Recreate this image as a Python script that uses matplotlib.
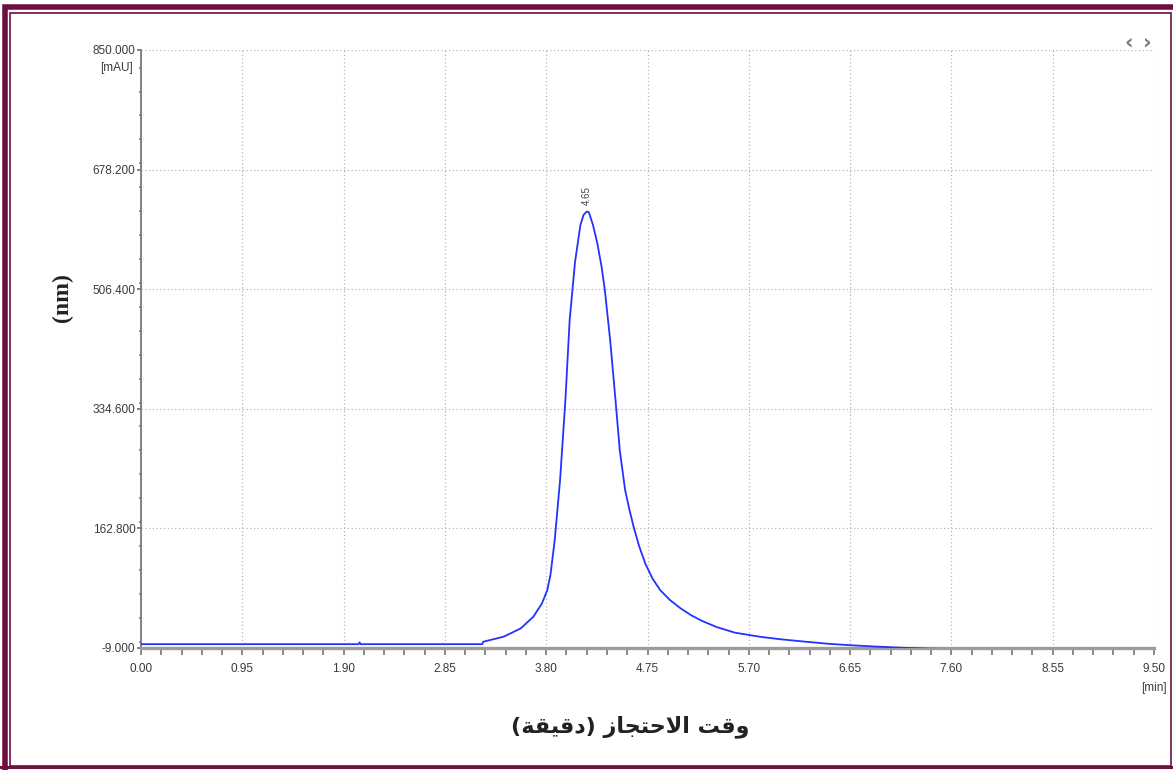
import matplotlib.pyplot as plt
import matplotlib.patches as pt
from matplotlib.lines import Line2D
from matplotlib.ticker import MultipleLocator

# chromatogram (time in min, signal in mAU)
time = [0.00, 2.04, 2.05, 2.06, 3.20, 3.21, 3.40, 3.56, 3.68, 3.76, 3.81,
        3.84, 3.88, 3.93, 3.98, 4.02, 4.07, 4.12, 4.15, 4.18, 4.20, 4.24,
        4.28, 4.32, 4.35, 4.40, 4.45, 4.49, 4.54, 4.58, 4.62, 4.67, 4.73,
        4.80, 4.87, 4.96, 5.06, 5.16, 5.26, 5.40, 5.57, 5.81, 6.00, 6.20,
        6.45, 6.65, 6.90, 7.12, 7.40, 7.59, 8.25]
signal = [-3.5, -3.5, -1.0, -3.5, -3.5, 0.0, 7.2, 19.0, 36.0, 55.0, 74.0,
          96.0, 146.0, 232.0, 347.0, 462.0, 545.0, 598.0, 613.0, 618.0, 617.0, 598.0,
          572.0, 538.0, 505.0, 433.0, 347.0, 275.0, 218.0, 190.0, 165.0, 138.0, 112.0,
          90.0, 74.0, 60.0, 48.0, 38.0, 30.0, 21.0, 13.0, 7.0, 3.5, 0.5,
          -3.0, -5.0, -7.0, -8.5, -10.0, -10.5, -11.0]

peak_time = 4.18
peak_value = 618.0
peak_label = '4.65'

xticks = [0.00, 0.95, 1.90, 2.85, 3.80, 4.75, 5.70, 6.65, 7.60, 8.55, 9.50]
yticks = [-9.0, 162.8, 334.6, 506.4, 678.2, 850.0]

# "وقت الاحتجاز (دقيقة)" in Arabic presentation forms, visual order
xlabel_ar = ('(\uFE94\uFED8\uFEF4\uFED7\uFEA9) '
             '\uFEAF\uFE8E\uFEA0\uFE98\uFEA3\uFEFB\uFE8D '
             '\uFE96\uFED7\uFEED')

W, H = 1173, 770
fig = plt.figure(figsize=(W / 100, H / 100), dpi=100)
fig.patch.set_facecolor('white')

ax = fig.add_axes([141 / W, 1 - 648 / H, 1013 / W, 598 / H])

tick_font = dict(family=['Liberation Sans Narrow', 'Liberation Sans', 'DejaVu Sans'],
                 size=8.5, color='#3a3a3a')

ax.plot(time, signal, color='#2233ff', lw=1.3, solid_joinstyle='round', zorder=3)

ax.set_xlim(0, 9.5)
ax.set_ylim(-9, 850)
ax.set_xticks(xticks)
ax.set_xticklabels(['%.2f' % t for t in xticks], **tick_font)
ax.set_yticks(yticks)
ax.set_yticklabels(['%.3f' % v for v in yticks], **tick_font)
ax.xaxis.set_minor_locator(MultipleLocator(0.19))
ax.yaxis.set_minor_locator(MultipleLocator(34.36))

ax.tick_params(axis='x', which='both', direction='out', length=5, width=1.1,
               color='#6a6a6a', pad=6)
ax.tick_params(axis='y', which='major', direction='out', length=3, width=1.2,
               color='#707070', pad=1)
ax.tick_params(axis='y', which='minor', direction='out', length=1.5, width=1.2,
               color='#808080')

ax.grid(True, which='major', color='#b5b5b5', lw=0.9, linestyle=(0, (1, 2)))
for s in ['top', 'right']:
    ax.spines[s].set_visible(False)
ax.spines['left'].set_color('#7a7a7a')
ax.spines['left'].set_linewidth(1.3)
ax.spines['bottom'].set_color('#9c9c9c')
ax.spines['bottom'].set_linewidth(2.4)
ax.set_axisbelow(True)

# peak retention label
ax.text(peak_time, peak_value + 10, peak_label, rotation=90, ha='center',
        va='bottom', fontsize=7, color='#404040',
        family=['Liberation Sans Narrow', 'Liberation Sans'])

# unit labels
fig.text(133 / W, 1 - 68 / H, '[mAU]', ha='right', va='center', **tick_font)
fig.text(1154 / W, 1 - 688 / H, '[min]', ha='center', va='center', **tick_font)

# navigation arrows top right
fig.text(1129 / W, 1 - 42 / H, '\u2039', ha='center', va='center', fontsize=15,
         color='#7a7a7a', fontweight='bold')
fig.text(1147 / W, 1 - 42 / H, '\u203A', ha='center', va='center', fontsize=15,
         color='#7a7a7a', fontweight='bold')

# axis titles
fig.text(62 / W, 1 - 298 / H, '(nm)', rotation=90, ha='center', va='center',
         fontsize=17, fontweight='bold', family='Liberation Serif', color='#222222')
fig.text(630 / W, 1 - 727 / H, xlabel_ar, ha='center', va='center',
         fontsize=16, fontweight='bold', family='DejaVu Sans', color='#222222')

# maroon double frame
frame = '#6d0f3f'
fig.add_artist(pt.Rectangle((4.5 / W, -0.05), 1.1, 1 - 7 / H + 0.05,
                            transform=fig.transFigure, fill=False,
                            edgecolor=frame, lw=4.0))
fig.add_artist(pt.Rectangle((10.2 / W, 1 - 766 / H), (1171.3 - 10.2) / W,
                            (766 - 12.5) / H, transform=fig.transFigure,
                            fill=False, edgecolor=frame, lw=1.2))
fig.add_artist(Line2D([0, 1], [1 - 766.5 / H] * 2, transform=fig.transFigure,
                      color=frame, lw=2.2))

plt.savefig('out.png', dpi=100)
